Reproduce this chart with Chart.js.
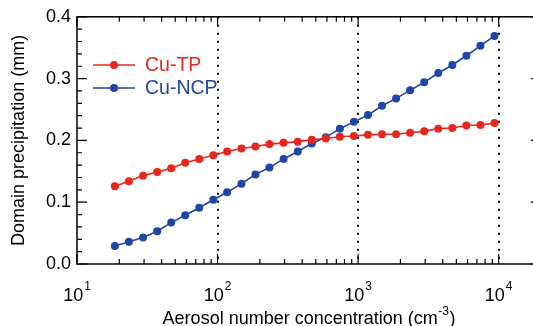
<!DOCTYPE html>
<html><head><meta charset="utf-8">
<script src="https://cdn.jsdelivr.net/npm/chart.js@4"></script>
<style>
html,body{margin:0;padding:0;background:#fff;overflow:hidden;}
#wrap{position:relative;width:560px;height:326px;}
</style></head><body>
<div id="wrap"><canvas id="c" width="560" height="326"></canvas></div>
<script>
// ---- data ----
const concentrations = [18.6, 23.4, 29.5, 37.2, 46.8, 58.9, 74.1, 93.3, 117, 148, 186, 234, 295, 372, 468, 589, 741, 933, 1175, 1479, 1862, 2344, 2951, 3715, 4677, 5888, 7413, 9333];
const cuTP  = [0.126, 0.134, 0.143, 0.149, 0.155, 0.164, 0.170, 0.176, 0.182, 0.187, 0.190, 0.194, 0.196, 0.198, 0.201, 0.203, 0.206, 0.207, 0.209, 0.210, 0.210, 0.2125, 0.215, 0.219, 0.220, 0.224, 0.225, 0.228];
const cuNCP = [0.029, 0.036, 0.043, 0.053, 0.067, 0.079, 0.091, 0.104, 0.116, 0.130, 0.145, 0.156, 0.170, 0.182, 0.195, 0.205, 0.219, 0.230, 0.241, 0.256, 0.268, 0.281, 0.294, 0.309, 0.322, 0.337, 0.353, 0.369];
const seriesNames = ['Cu-TP', 'Cu-NCP'];
const xTickValues = [10, 100, 1000, 10000];
const xTickExponents = ['1', '2', '3', '4'];
const yTickValues = [0.0, 0.1, 0.2, 0.3, 0.4];
const xTitleMain = 'Aerosol number concentration (cm';
const xTitleSup = '-3';
const xTitleEnd = ')';
const yTitle = 'Domain precipitation (mm)';

const RED = '#e8261f';
const BLUE = '#1f46a6';
const FONT = "'Liberation Sans', Arial, Helvetica, sans-serif";

const framePlugin = {
  id: 'frame',
  afterDraw(chart) {
    const ctx = chart.ctx;
    const a = chart.chartArea;
    const xs = chart.scales.x, ys = chart.scales.y;
    ctx.save();
    ctx.strokeStyle = '#000';
    ctx.lineWidth = 1.5;
    ctx.strokeRect(a.left, a.top, a.right - a.left, a.bottom - a.top);
    ctx.lineWidth = 1.2;
    ctx.beginPath();
    for (let d = 10; d <= 10000; d *= 10) {
      for (let m = 1; m <= 9; m++) {
        const v = d * m;
        if (v > xs.max) break;
        const px = xs.getPixelForValue(v);
        const len = m === 1 ? 10 : 5;
        ctx.moveTo(px, a.bottom); ctx.lineTo(px, a.bottom - len);
        ctx.moveTo(px, a.top); ctx.lineTo(px, a.top + len);
      }
    }
    for (let i = 0; i <= 20; i++) {
      const v = i * 0.02;
      const py = ys.getPixelForValue(v);
      const len = i % 5 === 0 ? 10 : 5;
      ctx.moveTo(a.left, py); ctx.lineTo(a.left + len, py);
      ctx.moveTo(a.right, py); ctx.lineTo(a.right - len, py);
    }
    ctx.stroke();

    // x tick labels with superscripts
    ctx.fillStyle = '#000';
    ctx.textBaseline = 'alphabetic';
    ctx.textAlign = 'left';
    xTickValues.forEach((v, i) => {
      const px = xs.getPixelForValue(v);
      ctx.font = '18px ' + FONT;
      const w1 = ctx.measureText('10').width;
      ctx.font = '12px ' + FONT;
      const w2 = ctx.measureText(xTickExponents[i]).width;
      const start = px - (w1 + w2 + 1) / 2;
      ctx.font = '18px ' + FONT;
      ctx.fillText('10', start, 301);
      ctx.font = '12px ' + FONT;
      ctx.fillText(xTickExponents[i], start + w1 + 1, 290);
    });

    // x title
    ctx.font = '18px ' + FONT;
    const t1 = ctx.measureText(xTitleMain).width;
    const t3 = ctx.measureText(xTitleEnd).width;
    ctx.font = '12px ' + FONT;
    const t2 = ctx.measureText(xTitleSup).width;
    const cx = (a.left + a.right) / 2;
    let sx = cx - (t1 + t2 + t3 + 1) / 2;
    ctx.font = '18px ' + FONT;
    ctx.fillText(xTitleMain, sx, 324);
    ctx.font = '12px ' + FONT;
    ctx.fillText(xTitleSup, sx + t1 + 0.5, 315);
    ctx.font = '18px ' + FONT;
    ctx.fillText(xTitleEnd, sx + t1 + t2 + 1, 324);

    // legend
    chart.data.datasets.forEach((ds, i) => {
      const y = 65 + 23 * i;
      ctx.strokeStyle = ds.borderColor;
      ctx.lineWidth = 1.5;
      ctx.beginPath();
      ctx.moveTo(93, y); ctx.lineTo(135, y); ctx.stroke();
      ctx.fillStyle = ds.borderColor;
      ctx.beginPath();
      ctx.arc(114, y, 4, 0, Math.PI * 2); ctx.fill();
      ctx.font = '19.5px ' + FONT;
      ctx.textBaseline = 'middle';
      ctx.fillText(ds.label, 145, y + 1);
    });
    ctx.restore();
  }
};

const ctx = document.getElementById('c').getContext('2d');
new Chart(ctx, {
  type: 'line',
  data: {
    datasets: [
      { label: seriesNames[0], data: concentrations.map((x, i) => ({ x: x, y: cuTP[i] })),
        borderColor: RED, backgroundColor: RED, borderWidth: 1.6, pointRadius: 4, pointBorderWidth: 0, pointHoverRadius: 4, tension: 0 },
      { label: seriesNames[1], data: concentrations.map((x, i) => ({ x: x, y: cuNCP[i] })),
        borderColor: BLUE, backgroundColor: BLUE, borderWidth: 1.6, pointRadius: 4, pointBorderWidth: 0, pointHoverRadius: 4, tension: 0 }
    ]
  },
  options: {
    responsive: false,
    animation: false,
    layout: { padding: { top: 15, right: 19, left: 0, bottom: 0 } },
    plugins: { legend: { display: false }, tooltip: { enabled: false } },
    scales: {
      x: {
        type: 'logarithmic', min: 10, max: 20000,
        afterBuildTicks: s => { s.ticks = xTickValues.map(v => ({ value: v })); },
        ticks: { display: false },
        grid: { color: c => (c.tick && c.tick.value > 10) ? '#000' : 'rgba(0,0,0,0)', lineWidth: 2, drawTicks: false },
        border: { display: false, dash: [2, 6] },
        afterFit: s => { s.height = 62; }
      },
      y: {
        min: 0, max: 0.4,
        afterBuildTicks: s => { s.ticks = yTickValues.map(v => ({ value: v })); },
        ticks: { font: { family: FONT, size: 18 }, color: '#000', padding: 6, callback: v => Number(v).toFixed(1) },
        grid: { display: false, drawTicks: false },
        border: { display: false },
        title: { display: true, text: yTitle, font: { family: FONT, size: 18 }, color: '#000', padding: { top: 8, bottom: 0 } },
        afterFit: s => { s.width = 77; }
      }
    }
  },
  plugins: [framePlugin]
});
</script>
</body></html>
